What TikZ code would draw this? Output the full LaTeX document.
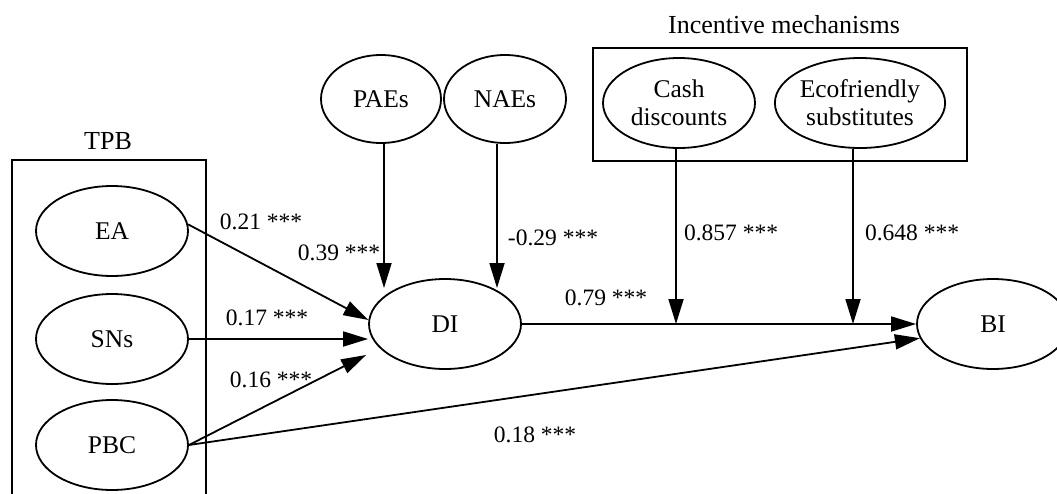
\documentclass[tikz,border=0pt]{standalone}
\usepackage{fontspec}
\setmainfont{Liberation Serif}
\usetikzlibrary{shapes.geometric}
\usetikzlibrary{arrows.meta}
\usetikzlibrary{calc}

\begin{document}
\begin{tikzpicture}[x=1pt,y=-1pt,line width=1.8pt,font=\fontsize{23.5}{28}\selectfont,
	var/.style={ellipse,draw,inner sep=0pt,minimum width=152pt,minimum height=90pt,align=center,font=\fontsize{25.5}{28}\selectfont},
	title/.style={font=\fontsize{26}{28}\selectfont},
	eff/.style={-{Triangle[length=25pt,width=15pt]}}]
	\useasboundingbox (0,0) rectangle (1057,493);
	\clip (0,0) rectangle (1057,493);
	\draw (12,160) rectangle (206,520);
	\draw (593,48) rectangle (967,161);
	\node [title] (tpb) at (108,141) {TPB};
	\node [title] (inc) at (784,25) {Incentive mechanisms};
	\node [var] (EA) at (112,231) {EA};
	\node [var] (SNs) at (112,339) {SNs};
	\node [var] (PBC) at (112,445) {PBC};
	\node [var,minimum width=120pt,minimum height=88pt] (PAEs) at (381,99) {PAEs};
	\node [var,minimum width=122pt,minimum height=88pt] (NAEs) at (505,99) {NAEs};
	\node [var] (cash) at (679,103) {Cash\\discounts};
	\node [var] (eco) at (860,103) {Ecofriendly\\substitutes};
	\node [var] (DI) at (445,324) {DI};
	\node [var] (BI) at (993,324) {BI};
	\coordinate (p1) at (384,288);
	\coordinate (p2) at (497,288);
	\coordinate (m1) at (676,324);
	\coordinate (m2) at (853,324);
	\foreach \n/\x/\y/\t in {wEA/261/222/0.21,wPAE/339/253/0.39,wNAE/553/238/-0.29,wSN/267/318/0.17,wPBC/271/380/0.16,wDI/606/298/0.79,wcash/731/233/0.857,weco/912/233/0.648,wBI/535/435/0.18}
		\node (\n) at (\x,\y) {\t\ ***};
	\draw [eff] (EA.5) -- (DI.177);
	\draw [eff] (SNs.east) -- (SNs.east -| DI.west);
	\draw [eff] (PBC.east) -- ($(DI.west)+(-2,31)$);
	\draw [eff] (PBC.east) -- (BI.191);
	\draw [eff] (PAEs.south -| p1) -- (p1);
	\draw [eff] (NAEs.south -| p2) -- (p2);
	\draw [eff] (DI.east) -- (BI.west);
	\draw [eff] (cash.south -| m1) -- (m1);
	\draw [eff] (eco.south -| m2) -- (m2);
\end{tikzpicture}
\end{document}
